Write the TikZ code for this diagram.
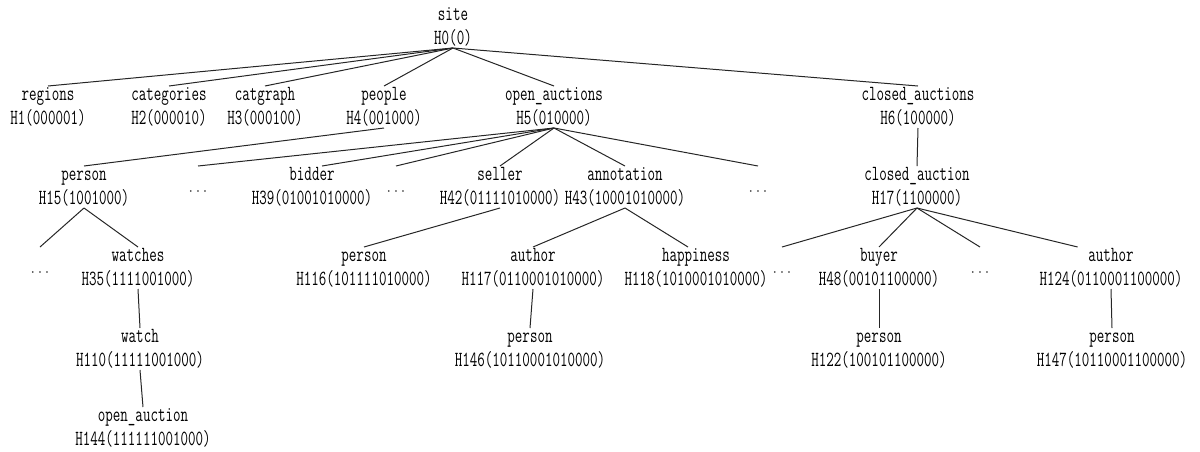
\documentclass[tikz,border=0pt]{standalone}
\usepackage{graphicx}
\newcommand\lnbox[1]{\rule[-3pt]{0pt}{13.5pt}\smash{\scalebox{0.73}[1.08]{#1}}}
\newcommand\twol[2]{\lnbox{#1}\\\lnbox{#2}}
\newcommand\dts{\smash{\raisebox{-6pt}{$\cdots$}}}
\tikzset{
  tn/.style={align=center, inner sep=0pt, outer sep=0pt,
    font=\fontsize{15pt}{18pt}\selectfont\ttfamily, text=black},
  dn/.style={inner sep=0pt, outer sep=0pt, minimum height=31.5pt, minimum width=12pt,
    font=\fontsize{13pt}{15pt}\selectfont, text=black!85},
  ed/.style={line width=0.75pt, draw=black!85}
}
\begin{document}
\begin{tikzpicture}[x=0.75pt, y=-0.75pt]
\useasboundingbox (0,0) rectangle (1200,451);
% level 0 (b1=20)
\node[tn] (site) at (453,27) {\twol{site}{H0(0)}};
% level 1 (b1=100)
\node[tn] (h1) at (48,107) {\twol{regions}{H1(000001)}};
\node[tn] (h2) at (169,107) {\twol{categories}{H2(000010)}};
\node[tn] (h3) at (265,107) {\twol{catgraph}{H3(000100)}};
\node[tn] (h4) at (384,107) {\twol{people}{H4(001000)}};
\node[tn] (h5) at (554,107) {\twol{open\_auctions}{H5(010000)}};
\node[tn] (h6) at (918,107) {\twol{closed\_auctions}{H6(100000)}};
% level 2 (b1=180)
\node[tn] (h15) at (84,187) {\twol{person}{H15(1001000)}};
\node[dn] (d1) at (198,187) {\dts};
\node[tn] (h39) at (312,187) {\twol{bidder}{H39(01001010000)}};
\node[dn] (d2) at (396,187) {\dts};
\node[tn] (h42) at (500,187) {\twol{seller}{H42(01111010000)}};
\node[tn] (h43) at (625,187) {\twol{annotation}{H43(10001010000)}};
\node[dn] (d3) at (758,187) {\dts};
\node[tn] (h17) at (917,187) {\twol{closed\_auction}{H17(1100000)}};
% level 3 (b1=261)
\node[dn] (d4) at (40,268) {\dts};
\node[tn] (h35) at (138,268) {\twol{watches}{H35(1111001000)}};
\node[tn] (h116) at (364,268) {\twol{person}{H116(101111010000)}};
\node[tn] (h117) at (533,268) {\twol{author}{H117(0110001010000)}};
\node[tn] (h118) at (696,268) {\twol{happiness}{H118(1010001010000)}};
\node[dn] (d5) at (782,268) {\dts};
\node[tn] (h48) at (879,268) {\twol{buyer}{H48(00101100000)}};
\node[dn] (d6) at (980,268) {\dts};
\node[tn] (h124) at (1111,268) {\twol{author}{H124(0110001100000)}};
% level 4 (b1=342)
\node[tn] (h110) at (140,349) {\twol{watch}{H110(11111001000)}};
\node[tn] (h146) at (530,349) {\twol{person}{H146(10110001010000)}};
\node[tn] (h122) at (879,349) {\twol{person}{H122(100101100000)}};
\node[tn] (h147) at (1112,349) {\twol{person}{H147(10110001100000)}};
% level 5 (b1=421)
\node[tn] (h144) at (143,428) {\twol{open\_auction}{H144(111111001000)}};
% edges
\foreach \c in {h1,h2,h3,h4,h5,h6} \draw[ed] (site.south) -- (\c.north);
\draw[ed] (h4.south) -- (h15.north);
\foreach \c in {d1,d2,h42,h43,d3} \draw[ed] (h5.south) -- (\c.north);
\draw[ed] (h5.south) -- ([xshift=7.5pt]h39.north);
\draw[ed] (h6.south) -- (h17.north);
\draw[ed] (h15.south) -- (d4.north);
\draw[ed] (h15.south) -- (h35.north);
\draw[ed] (h35.south) -- (h110.north);
\draw[ed] (h110.south) -- (h144.north);
\draw[ed] (h42.south) -- (h116.north);
\draw[ed] (h43.south) -- (h117.north);
\draw[ed] (h43.south) -- ([xshift=-6pt]h118.north);
\draw[ed] (h117.south) -- (h146.north);
\foreach \c in {d5,h48,d6} \draw[ed] (h17.south) -- (\c.north);
\draw[ed] (h17.south) -- ([xshift=-25pt]h124.north);
\draw[ed] (h48.south) -- (h122.north);
\draw[ed] (h124.south) -- (h147.north);
\end{tikzpicture}
\end{document}
